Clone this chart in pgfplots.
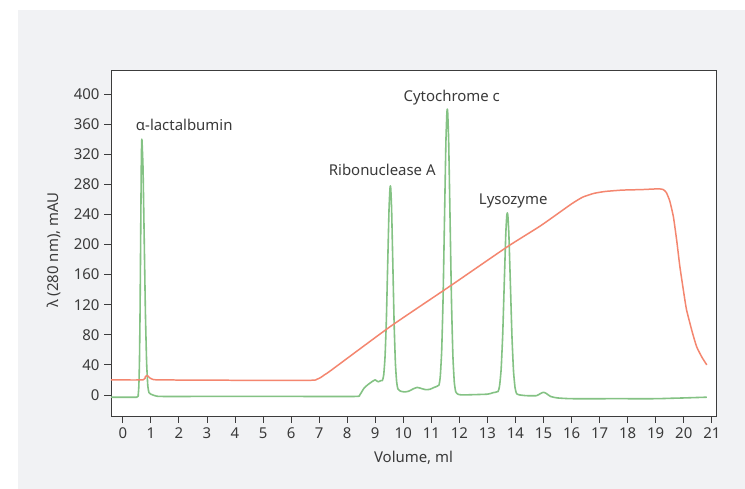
\documentclass[border=0pt]{standalone}
\usepackage{pgfplots}
\pgfplotsset{compat=1.18}
\usepackage{fontspec}
\setmainfont{Noto Sans}
\definecolor{bggray}{HTML}{F1F2F4}
\definecolor{txt}{HTML}{3A3A3A}
\definecolor{frame}{HTML}{3C3C3C}
\definecolor{grn}{HTML}{84C284}
\definecolor{org}{HTML}{F4866F}
\begin{document}
\begin{tikzpicture}[x=1bp,y=1bp]
\useasboundingbox (0,0) rectangle (745,489);
\fill[white] (0,0) rectangle (745,489);
\fill[bggray] (18,0) rectangle (745,479);
\begin{axis}[
  at={(111bp,73bp)}, anchor=south west,
  scale only axis, width=605bp, height=346bp,
  xmin=-0.42, xmax=21.15, ymin=-28, ymax=432,
  axis background/.style={fill=white},
  axis line style={frame, line width=0.8pt},
  xtick={0,1,...,21}, ytick={0,40,...,400},
  tick align=outside, tick pos=left,
  major tick length=7bp,
  every tick/.style={frame, line width=0.8pt},
  /pgf/number format/assume math mode=true,
  tick label style={font=\fontsize{15}{18}\selectfont, text=txt},
  xticklabel style={yshift=-1bp},
  yticklabel style={xshift=-1bp},
  clip=false,
]
\addplot[grn, line width=1.6pt, line join=round, smooth, tension=0.3] coordinates {
(-0.42,-3) (0.50,-3) (0.551,0.8) (0.5725,12) (0.594,43) (0.6155,108) (0.637,205) (0.6585,300) (0.672,334) (0.68,340) (0.69,334) (0.7225,300) (0.765,205) (0.8075,108) (0.85,43) (0.8925,12) (0.935,3) (1.0,1) (1.15,-1) (1.35,-2)
(3,-2) (6,-2) (8.3,-2) (8.45,0) (8.6,9) (8.75,14) (8.9,18) (9.0,20) (9.1,17.5) (9.2,19)
(9.255,19) (9.3025,26.5) (9.35,50.6) (9.3975,100) (9.445,174.5) (9.4925,247) (9.525,274) (9.54,278) (9.555,274) (9.585,246) (9.63,170.6) (9.675,93.6) (9.72,42) (9.765,17) (9.81,8) (9.9,5)
(10.05,4) (10.2,5) (10.35,8) (10.5,10) (10.65,8.5) (10.8,7) (10.95,7.5) (11.1,10)
(11.27,13) (11.32,25) (11.37,59) (11.42,129.5) (11.47,234) (11.52,336) (11.555,375) (11.57,380) (11.585,375) (11.62,335) (11.67,230.5) (11.72,123.4) (11.77,51.4) (11.82,16.7) (11.87,4.2) (11.95,1) (12.1,0)
(13.0,1) (13.2,3)
(13.38,4.6) (13.435,12.5) (13.49,34.5) (13.545,80) (13.60,147.6) (13.655,214) (13.69,238) (13.71,242) (13.73,238) (13.765,213.5) (13.82,146.4) (13.875,78) (13.93,32) (13.985,9.7) (14.04,1.7) (14.15,0)
(14.4,-1) (14.75,-1) (14.9,2) (15.0,3.5) (15.1,2) (15.25,-2) (15.5,-4) (16.0,-5) (17.5,-5) (19.0,-5) (19.5,-4.5) (20.0,-4) (20.82,-3)
};
\addplot[org, line width=1.5pt, line join=round, smooth, tension=0.3] coordinates {
(-0.42,20) (0.72,20) (0.8,24) (0.87,26) (0.95,23) (1.05,21) (1.3,20) (4,19.5) (6.7,19.5) (6.9,20.5) (7.05,23) (7.2,27) (7.4,32)
(9.54,91) (11.68,145) (13.71,197) (14.9,225) (16.0,254) (16.4,263) (16.8,268) (17.2,270.5) (17.8,272.3) (18.5,273) (19.1,274) (19.27,273) (19.38,269) (19.5,258) (19.63,237) (19.75,205) (19.86,171) (20.0,136) (20.1,113) (20.3,84) (20.46,64) (20.65,50) (20.82,40)
};
\node[font=\fontsize{15}{18}\selectfont, text=txt] at (axis cs:2.19,359) {α-lactalbumin};
\node[font=\fontsize{15}{18}\selectfont, text=txt] at (axis cs:9.25,299) {Ribonuclease A};
\node[font=\fontsize{15}{18}\selectfont, text=txt] at (axis cs:11.73,395) {Cytochrome c};
\node[font=\fontsize{15}{18}\selectfont, text=txt] at (axis cs:13.92,258) {Lysozyme};
\node[font=\fontsize{15}{18}\selectfont, text=txt] at (rel axis cs:0.5,-0.121) {Volume, ml};
\node[font=\fontsize{15}{18}\selectfont, text=txt, rotate=90] at (rel axis cs:-0.095,0.48) {λ (280 nm), mAU};
\end{axis}
\end{tikzpicture}
\end{document}
